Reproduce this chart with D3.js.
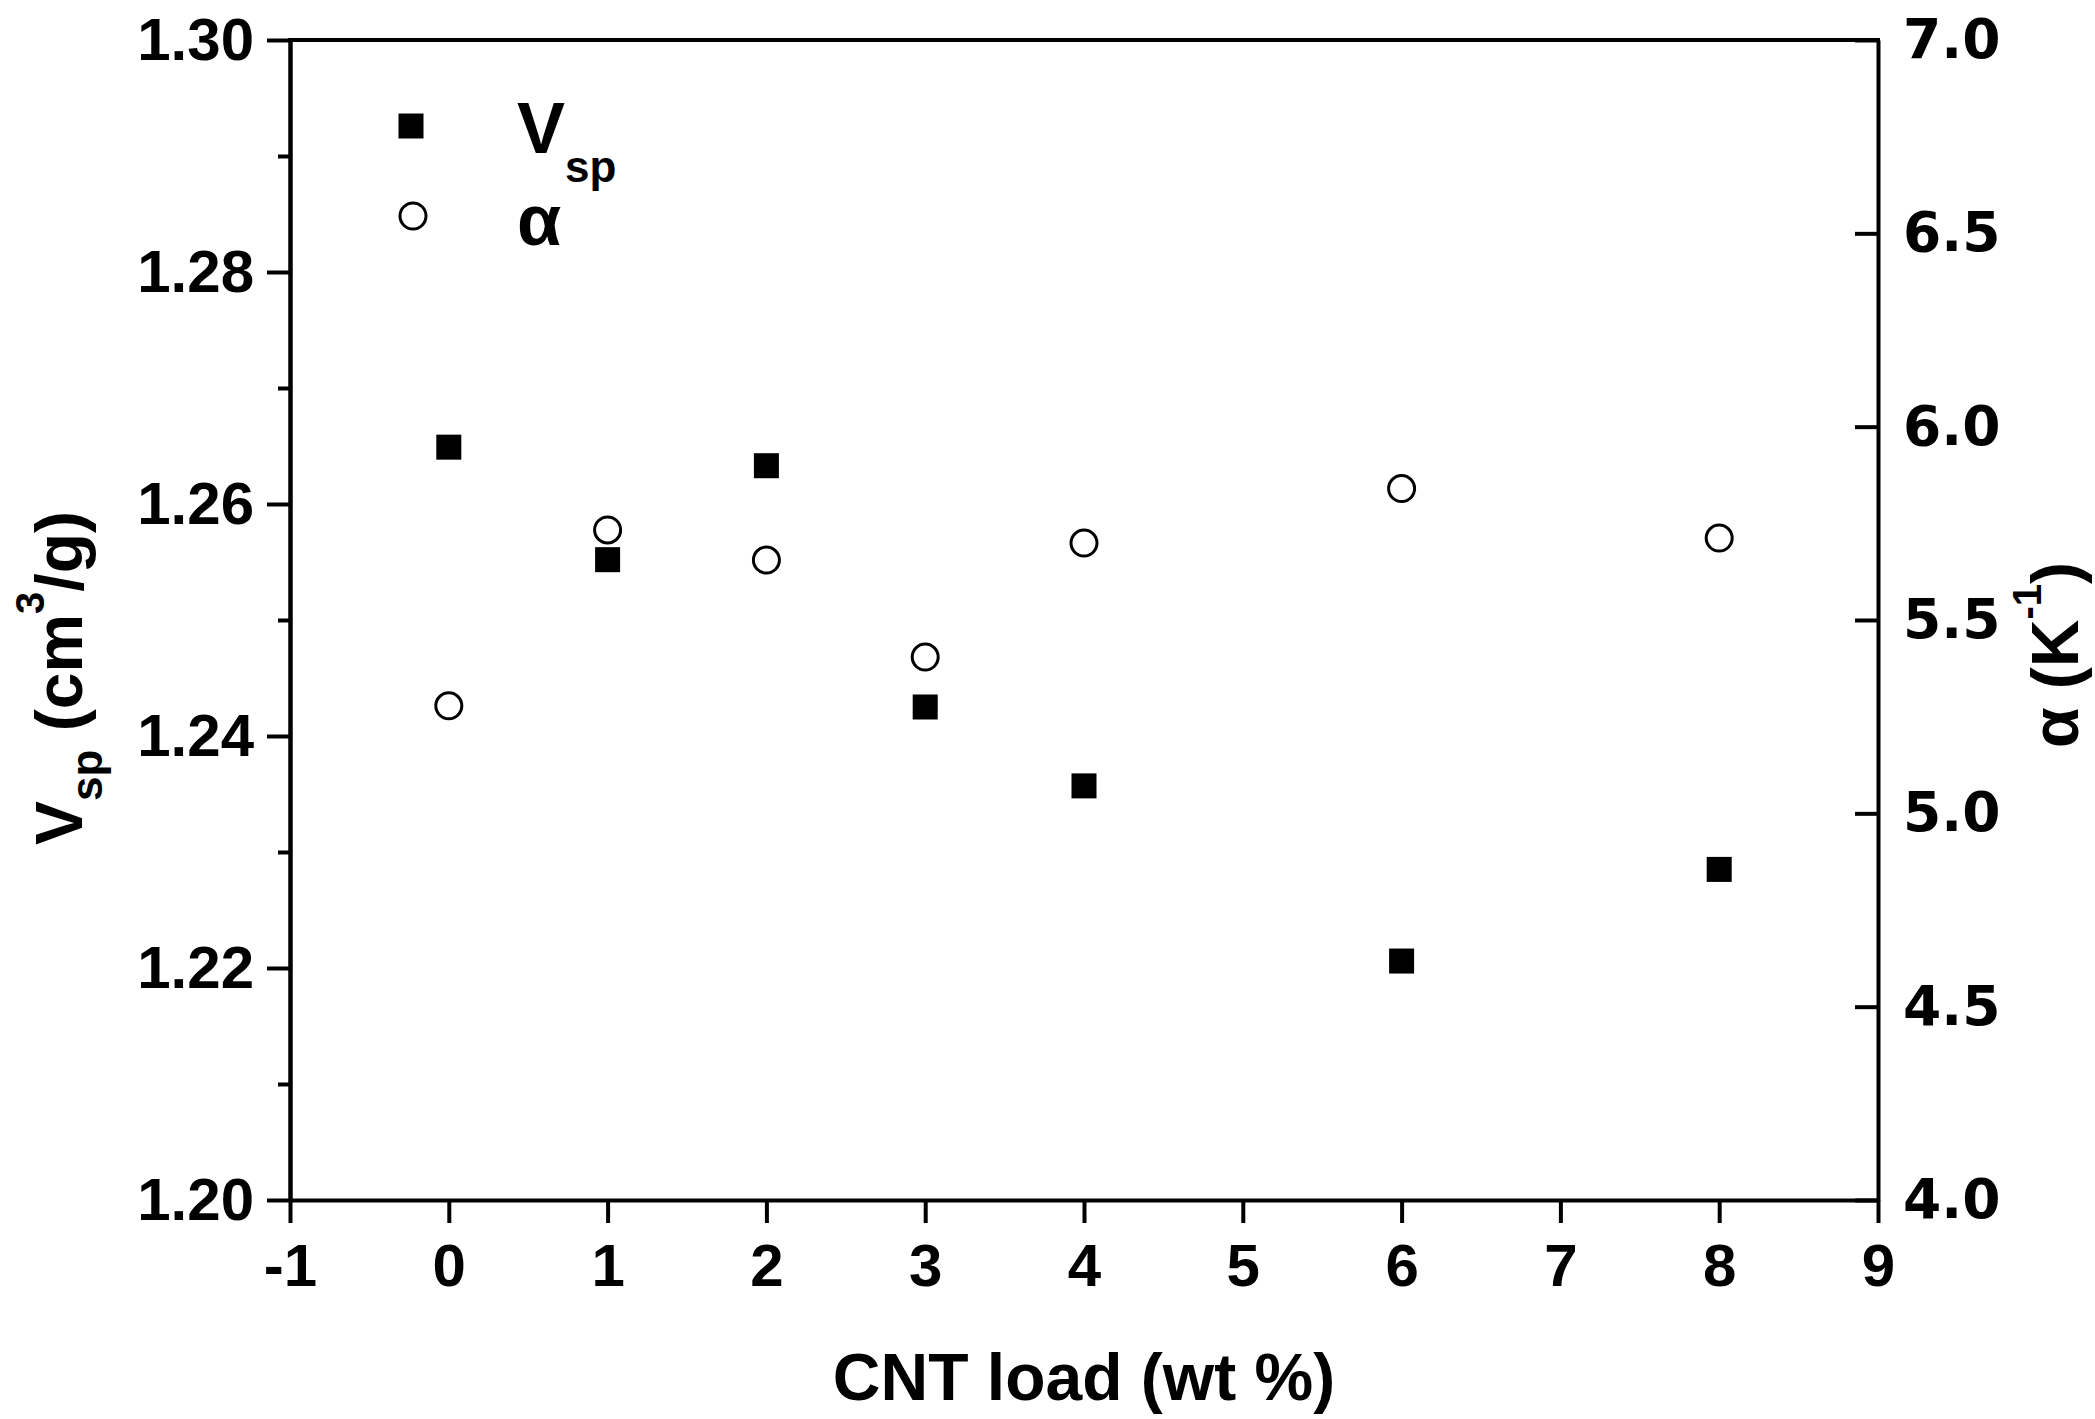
<!DOCTYPE html>
<html>
<head>
<meta charset="utf-8">
<script src="https://cdn.jsdelivr.net/npm/d3@7"></script>
<style>
  body { margin: 0; background: #fff; }
  svg { display: block; }
  text { font-family: "Liberation Sans", Arial, sans-serif; font-weight: bold; fill: #000; }
</style>
</head>
<body>
<svg id="chart"></svg>
<script>
// values
const loads = [0, 1, 2, 3, 4, 6, 8];
const vsp = [1.2649, 1.2552, 1.2633, 1.2425, 1.2357, 1.2206, 1.2285];
const alpha = [5.278, 5.733, 5.655, 5.404, 5.699, 5.840, 5.712];

const xTicks = [-1, 0, 1, 2, 3, 4, 5, 6, 7, 8, 9];
const vspTicks = [1.20, 1.22, 1.24, 1.26, 1.28, 1.30];
const vspMinor = [1.21, 1.23, 1.25, 1.27, 1.29];
const alphaTicks = [4.0, 4.5, 5.0, 5.5, 6.0, 6.5, 7.0];

const W = 2095, H = 1419;
const plotL = 290, plotR = 1878, plotT = 40, plotB = 1200;

const svg = d3.select('#chart').attr('width', W).attr('height', H);

const x = d3.scaleLinear().domain([-1, 9]).range([plotL, plotR]);
const yL = d3.scaleLinear().domain([1.20, 1.30]).range([plotB, plotT]);
const yR = d3.scaleLinear().domain([4.0, 7.0]).range([plotB, plotT]);

function styleAxis(g) {
  g.selectAll('path.domain').attr('stroke', '#000').attr('stroke-width', 4);
  g.selectAll('.tick line').attr('stroke', '#000').attr('stroke-width', 4);
  g.selectAll('.tick text').attr('fill', '#000');
}

// bottom axis (plain hyphen for negatives, as in the figure)
svg.append('g')
  .attr('transform', `translate(0,${plotB})`)
  .call(d3.axisBottom(x).tickValues(xTicks).tickSize(23).tickSizeOuter(0).tickPadding(20).tickFormat((d) => String(d)))
  .call(styleAxis)
  .call((g) => g.selectAll('.tick text').attr('font-size', 60).style('font-family', '"Liberation Sans", Arial, sans-serif'));

// left axis, minor ticks first
svg.append('g')
  .attr('transform', `translate(${plotL},0)`)
  .call(d3.axisLeft(yL).tickValues(vspMinor).tickSize(12).tickSizeOuter(0).tickFormat(''))
  .call(styleAxis);

svg.append('g')
  .attr('transform', `translate(${plotL},0)`)
  .call(d3.axisLeft(yL).tickValues(vspTicks).tickSize(23).tickSizeOuter(0).tickPadding(13).tickFormat(d3.format('.2f')))
  .call(styleAxis)
  .call((g) => g.selectAll('.tick text').attr('font-size', 60).style('font-family', '"Liberation Sans", Arial, sans-serif'));

// right axis, ticks pointing inward
svg.append('g')
  .attr('transform', `translate(${plotR},0)`)
  .call(d3.axisRight(yR).tickValues(alphaTicks).tickSizeInner(-23).tickSizeOuter(0).tickPadding(25).tickFormat(d3.format('.1f')))
  .call(styleAxis)
  .call((g) => g.selectAll('.tick text').attr('font-size', 55).style('font-family', '"DejaVu Sans", sans-serif'));

// top frame line
svg.append('line')
  .attr('x1', plotL - 2).attr('x2', plotR + 2)
  .attr('y1', plotT).attr('y2', plotT)
  .attr('stroke', '#000').attr('stroke-width', 4);

// V_sp squares
const sq = 25;
svg.append('g')
  .selectAll('rect')
  .data(loads.map((d, i) => ({ x: d, y: vsp[i] })))
  .enter()
  .append('rect')
  .attr('x', (d) => x(d.x) - sq / 2)
  .attr('y', (d) => yL(d.y) - sq / 2)
  .attr('width', sq)
  .attr('height', sq)
  .attr('fill', '#000');

// alpha circles
svg.append('g')
  .selectAll('circle')
  .data(loads.map((d, i) => ({ x: d, y: alpha[i] })))
  .enter()
  .append('circle')
  .attr('cx', (d) => x(d.x))
  .attr('cy', (d) => yR(d.y))
  .attr('r', 13)
  .attr('fill', 'none')
  .attr('stroke', '#000')
  .attr('stroke-width', 3);

// legend
const legend = svg.append('g');
legend.append('rect').attr('x', 411 - sq / 2).attr('y', 126 - sq / 2).attr('width', sq).attr('height', sq).attr('fill', '#000');
legend.append('circle').attr('cx', 413).attr('cy', 216).attr('r', 13).attr('fill', 'none').attr('stroke', '#000').attr('stroke-width', 3);
const lv = legend.append('text').attr('x', 517).attr('y', 153).attr('font-size', 72);
lv.append('tspan').text('V');
lv.append('tspan').attr('font-size', 44).attr('dy', 29).text('sp');
legend.append('text').attr('x', 517).attr('y', 245).attr('font-size', 72).text('α');

// axis titles
svg.append('text')
  .attr('x', (plotL + plotR) / 2)
  .attr('y', 1400)
  .attr('text-anchor', 'middle')
  .attr('font-size', 66)
  .text('CNT load (wt %)');

const tl = svg.append('text')
  .attr('transform', 'translate(82,678) rotate(-90)')
  .attr('text-anchor', 'middle')
  .attr('font-size', 66);
tl.append('tspan').text('V');
tl.append('tspan').attr('font-size', 44).attr('dy', 20).text('sp');
tl.append('tspan').attr('dy', -20).text(' (cm');
tl.append('tspan').attr('font-size', 40).attr('dy', -38).text('3');
tl.append('tspan').attr('dy', 38).text('/g)');

const tr = svg.append('text')
  .attr('transform', 'translate(2078,655) rotate(-90)')
  .attr('text-anchor', 'middle')
  .attr('font-size', 66);
tr.append('tspan').text('α (K');
tr.append('tspan').attr('font-size', 40).attr('dy', -37).text('-1');
tr.append('tspan').attr('dy', 37).text(')');
</script>
</body>
</html>
